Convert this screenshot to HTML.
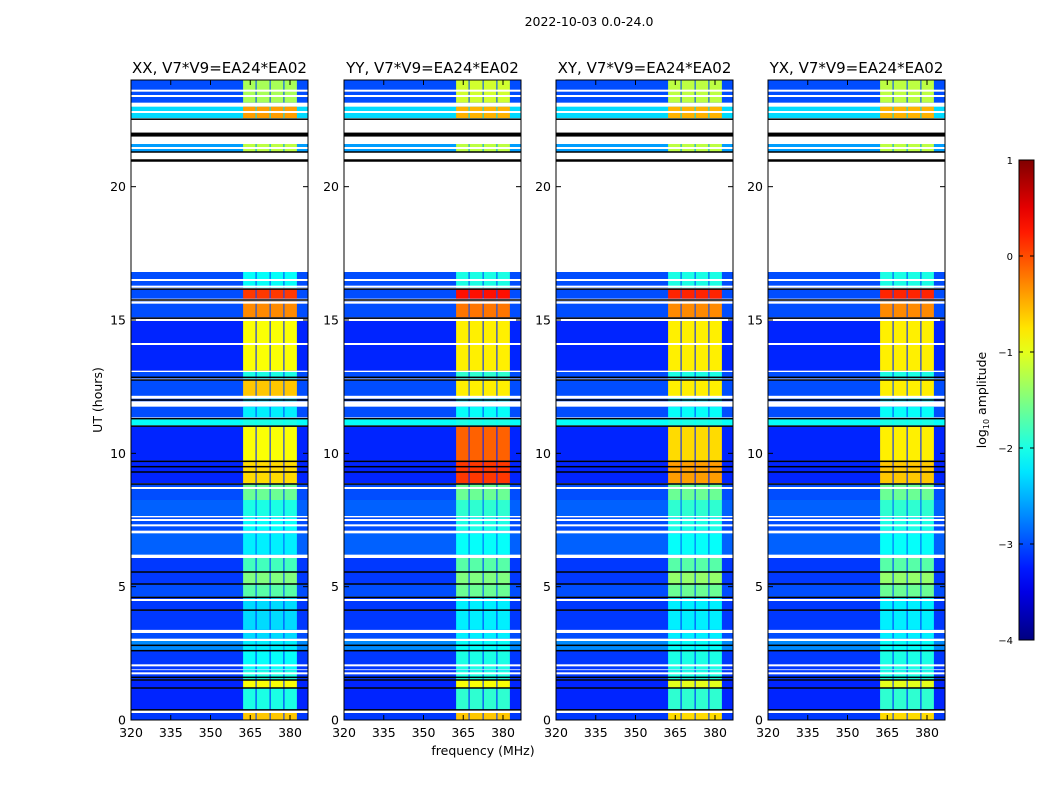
<!DOCTYPE html>
<html><head><meta charset="utf-8"><style>
body{margin:0;background:#fff;}
svg{font-family:"DejaVu Sans","Liberation Sans",sans-serif;}
</style></head><body>
<svg id="fig" width="1050" height="800" viewBox="0 0 1050 800">
<text x="589" y="26" font-size="12.5" text-anchor="middle">2022-10-03 0.0-24.0</text>
<text x="483" y="755" font-size="12.5" text-anchor="middle">frequency (MHz)</text>
<text transform="translate(102,400) rotate(-90)" font-size="12.5" text-anchor="middle">UT (hours)</text>
<g id="panels"></g>
<g id="cbar"></g>
<text transform="translate(986,400) rotate(-90)" font-size="12.5" text-anchor="middle">log<tspan font-size="8" dy="3">10</tspan><tspan dy="-3"> amplitude</tspan></text>
</svg>
<script>
const panelTitles = ["XX, V7*V9=EA24*EA02","YY, V7*V9=EA24*EA02","XY, V7*V9=EA24*EA02","YX, V7*V9=EA24*EA02"];
const xTicks = [320,335,350,365,380];
const yTicks = [0,5,10,15,20];
const cbarTicks = [1,0,-1,-2,-3,-4];
const segStart = [0,0.37,1.22,1.52,1.9,2.62,3.05,3.38,4.13,4.63,5.12,5.57,6.2,7.1,7.65,8.25,8.88,9.72,11.05,11.35,11.95,12.1,12.8,13.1,15.1,15.8,16.2,21.3,22.57,23.15];
const segEnd   = [0.3,1.2,1.48,1.87,2.6,3.0,3.3,4.1,4.6,5.1,5.55,6.1,7.0,7.6,8.25,8.85,9.7,11.0,11.3,11.75,12.05,12.75,13.05,15.05,15.7,16.15,16.8,21.6,23.0,24];
const segBg    = [-3.1,-3.2,-3.2,-3.1,-3.1,-2.7,-3.0,-3.1,-3.1,-3.0,-3.1,-3.1,-2.9,-3.0,-2.9,-3.0,-3.2,-3.2,-2.1,-3.0,-3.0,-3.0,-3.0,-3.2,-3.0,-3.0,-3.0,-2.6,-2.3,-3.0];
const bandXX = [-0.6,-2.0,-0.9,-2.0,-2.1,-2.2,-2.3,-2.3,-2.3,-1.7,-1.5,-1.8,-2.2,-2.1,-2.0,-1.6,-0.7,-0.9,-2.0,-2.2,-2.2,-0.6,-2.0,-0.9,-0.3,0.1,-2.1,-1.2,-0.4,-1.3];
const bandYY = [-0.6,-1.9,-0.9,-2.0,-2.0,-2.1,-2.2,-2.2,-2.2,-1.6,-1.5,-1.7,-2.1,-2.0,-1.9,-1.6,0.1,-0.1,-2.0,-2.1,-2.1,-0.8,-1.9,-0.8,-0.2,0.3,-2.0,-1.2,-0.5,-1.1];
const bandXY = [-0.7,-1.9,-1.0,-2.0,-2.0,-2.1,-2.2,-2.2,-2.2,-1.6,-1.4,-1.7,-2.1,-2.0,-1.9,-1.6,-0.4,-0.7,-2.0,-2.1,-2.1,-0.8,-2.0,-0.8,-0.3,0.2,-2.0,-1.2,-0.5,-1.2];
const bandYX = [-0.7,-1.9,-1.0,-2.0,-2.0,-2.1,-2.2,-2.2,-2.2,-1.6,-1.4,-1.7,-2.1,-2.0,-1.9,-1.6,-0.6,-0.8,-2.0,-2.1,-2.1,-0.8,-2.0,-0.8,-0.3,0.2,-2.0,-1.2,-0.5,-1.2];
const bandSets = [bandXX,bandYY,bandXY,bandYX];
const subBandLo = [362.3,367.4,372.7,377.9];
const subBandHi = [367.0,372.3,377.5,382.6];
const whiteLines = [0.3,1.75,2.05,3.0,3.3,4.5,6.15,7.3,7.5,8.7,11.8,12.12,14.1,15.0,15.65,16.25,16.5,21.45,22.8,23.4,23.6];
const blackLines = [0.38,1.2,1.5,1.6,2.6,2.8,4.12,4.6,5.1,5.55,8.85,9.3,9.5,9.7,11.02,11.3,12.0,12.75,12.85,15.07,15.75,16.16,21.0,21.3,22.0,22.53];

const panelLeft = [131,344,556,768];
const pW = 177, pTop = 80, pBot = 720;
const NS = "http://www.w3.org/2000/svg";
function jet(v){
  let t = Math.max(0,Math.min(1,(v+4)/5));
  const f = x=>Math.round(255*Math.max(0,Math.min(1,x)));
  return `rgb(${f(1.5-Math.abs(4*t-3))},${f(1.5-Math.abs(4*t-2))},${f(1.5-Math.abs(4*t-1))})`;
}
function el(tag,attrs,parent){const e=document.createElementNS(NS,tag);for(const k in attrs)e.setAttribute(k,attrs[k]);parent.appendChild(e);return e;}
const panels = document.getElementById('panels');
panelLeft.forEach((L,p)=>{
  const xS = f => L + (f-320)*2.65;
  const yS = h => pBot - h*(pBot-pTop)/24;
  const g = el('g',{},panels);
  
  
  segStart.forEach((s,i)=>{
    const y0=yS(segEnd[i]), y1=yS(s);
    const r = el('rect',{x:L,y:y0,width:pW,height:y1-y0,fill:jet(segBg[i])},g);
    
    
    subBandLo.forEach((lo,j)=>{
      const b = el('rect',{x:xS(lo),y:y0,width:xS(subBandHi[j])-xS(lo),height:y1-y0,fill:jet(bandSets[p][i])},g);
      
      
    });
  });
  whiteLines.forEach(h=>{
    const l = el('rect',{x:L,y:yS(h)-1,width:pW,height:h===6.15?3:2,fill:'#fff'},g);
    
    
  });
  blackLines.forEach(h=>{
    const l = el('rect',{x:L,y:yS(h)-0.75,width:pW,height:(h===22.0?4:(h===21.0?2.5:1.5)),fill:'#000'},g);
    
    
  });
  const fr = el('rect',{x:L,y:pTop,width:pW,height:pBot-pTop,fill:'none',stroke:'#000','stroke-width':1},g);
  
  
  const t = el('text',{x:L+pW/2,y:73,'font-size':15,'text-anchor':'middle'},g);
  t.textContent = panelTitles[p];
  
  
  xTicks.forEach(v=>{
    const x=xS(v);
    el('line',{x1:x,x2:x,y1:pBot,y2:pBot-5,stroke:'#000'},g);
    el('line',{x1:x,x2:x,y1:pTop,y2:pTop+5,stroke:'#000'},g);
    const tl = el('text',{x:x,y:737,'font-size':12.5,'text-anchor':'middle'},g);
    tl.textContent = v;
    
    
  });
  yTicks.forEach(v=>{
    const y=yS(v);
    el('line',{x1:L,x2:L+5,y1:y,y2:y,stroke:'#000'},g);
    el('line',{x1:L+pW,x2:L+pW-5,y1:y,y2:y,stroke:'#000'},g);
    const tl = el('text',{x:L-5,y:y+4.5,'font-size':12.5,'text-anchor':'end'},g);
    tl.textContent = v;
    
    
  });
});
const cb = document.getElementById('cbar');
const defs = el('defs',{},cb);
const grad = el('linearGradient',{id:'jetg',x1:0,y1:1,x2:0,y2:0},defs);
for(let i=0;i<=20;i++){el('stop',{offset:i/20,'stop-color':jet(-4+5*i/20)},grad);}
const cr = el('rect',{x:1019,y:160,width:15,height:480,fill:'url(#jetg)',stroke:'#000','stroke-width':1},cb);


cbarTicks.forEach(v=>{
  const y = 160 + (1-v)*96;
  el('line',{x1:1019,x2:1023,y1:y,y2:y,stroke:'#000'},cb);
  el('line',{x1:1034,x2:1030,y1:y,y2:y,stroke:'#000'},cb);
  const tl = el('text',{x:1013,y:y+4,'font-size':10,'text-anchor':'end'},cb);
  tl.textContent = v<0 ? '\u2212'+(-v) : v;
  
  
});
</script>
</body></html>
